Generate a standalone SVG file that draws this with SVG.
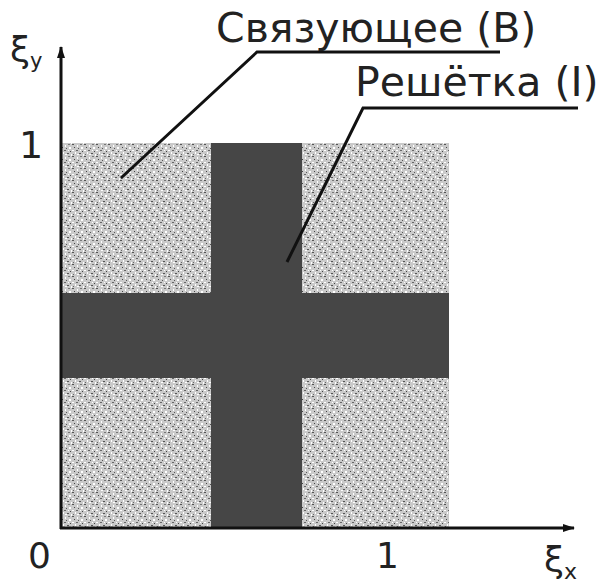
<svg xmlns="http://www.w3.org/2000/svg" width="604" height="588" viewBox="0 0 604 588">
<style>
.t{font-family:"DejaVu Sans","Noto Sans",sans-serif;fill:#222}
.ln{stroke:#111;stroke-width:3;fill:none}
</style>
<defs>
<pattern id="noise" width="12" height="12" patternUnits="userSpaceOnUse">
<rect width="12" height="12" fill="#cacaca"/>
<rect x="0" y="0" width="2" height="1" fill="#555"/>
<rect x="5" y="1" width="1" height="2" fill="#fff"/>
<rect x="8" y="0" width="2" height="1" fill="#777"/>
<rect x="2" y="3" width="1" height="1" fill="#444"/>
<rect x="9" y="3" width="2" height="2" fill="#fff"/>
<rect x="6" y="4" width="1" height="1" fill="#555"/>
<rect x="0" y="6" width="2" height="1" fill="#fff"/>
<rect x="4" y="6" width="2" height="1" fill="#666"/>
<rect x="10" y="7" width="1" height="1" fill="#444"/>
<rect x="3" y="8" width="1" height="2" fill="#fff"/>
<rect x="7" y="9" width="2" height="1" fill="#555"/>
<rect x="1" y="10" width="1" height="1" fill="#666"/>
<rect x="5" y="10" width="2" height="1" fill="#fff"/>
<rect x="11" y="10" width="1" height="2" fill="#fff"/>
<rect x="8" y="6" width="1" height="1" fill="#fff"/>
</pattern>
<marker id="ar" markerWidth="12" markerHeight="8" refX="11" refY="4" orient="auto" markerUnits="userSpaceOnUse">
<path d="M0,0 L12,4 L0,8 Z" fill="#111"/>
</marker>
</defs>
<g id="cell">
<rect x="62" y="143" width="387" height="385" fill="url(#noise)"/>
<rect x="211" y="143" width="91" height="385" fill="#464646"/>
<rect x="62" y="293" width="387" height="85" fill="#464646"/>
</g>
<g id="axes">
<line class="ln" x1="61" y1="529" x2="61" y2="47" marker-end="url(#ar)"/>
<line class="ln" x1="60" y1="528" x2="574" y2="528" marker-end="url(#ar)"/>
</g>
<g id="connectors">
<polyline class="ln" points="121,178 257,52 500,52"/>
<polyline class="ln" points="287,262 363,108 578,108"/>
</g>
<g id="labels">
<text class="t" x="216" y="42" font-size="41">Связующее (B)</text>
<text class="t" x="355" y="96" font-size="41">Решётка (I)</text>
<text class="t" x="19" y="158" font-size="38">1</text>
<text class="t" x="10" y="62" font-size="36">ξ<tspan font-size="21" dy="6">y</tspan></text>
<text class="t" x="28" y="568" font-size="36">0</text>
<text class="t" x="376" y="568" font-size="36">1</text>
<text class="t" x="544" y="572" font-size="36">ξ<tspan font-size="22" dy="7">x</tspan></text>
</g>
</svg>
